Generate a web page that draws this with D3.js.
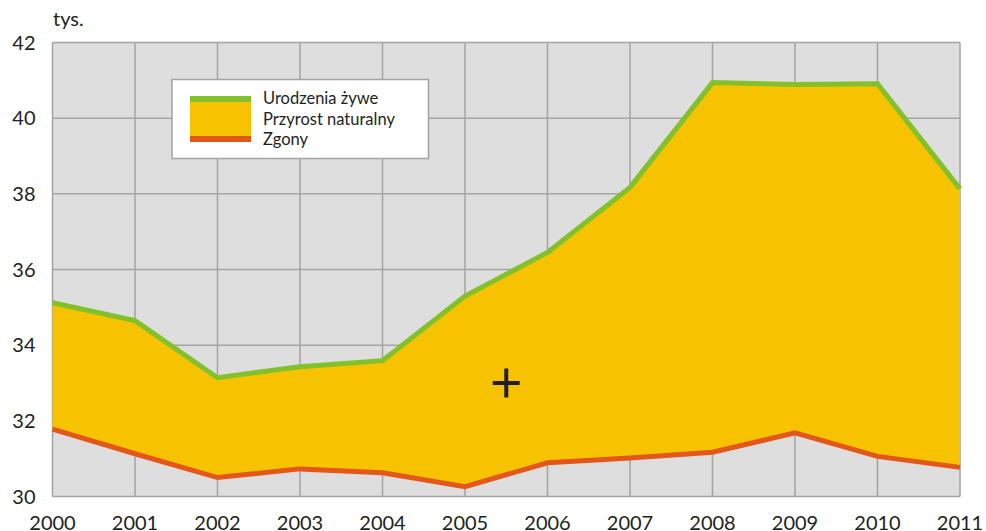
<!DOCTYPE html>
<html>
<head>
<meta charset="utf-8">
<script src="https://cdn.jsdelivr.net/npm/d3@7"></script>
<style>
  body { margin: 0; background: #fff; }
  text { font-family: Lato, "Open Sans", sans-serif; fill: #231f20; }
</style>
</head>
<body>
<script>
// data (thousands)
var years = [2000, 2001, 2002, 2003, 2004, 2005, 2006, 2007, 2008, 2009, 2010, 2011];
var births = [35.12, 34.65, 33.14, 33.43, 33.59, 35.30, 36.45, 38.17, 40.94, 40.89, 40.91, 38.13];
var deaths = [31.78, 31.13, 30.50, 30.73, 30.63, 30.26, 30.89, 31.02, 31.17, 31.68, 31.06, 30.77];
var yTicks = [30, 32, 34, 36, 38, 40, 42];
var legendLabels = ["Urodzenia żywe", "Przyrost naturalny", "Zgony"];

var W = 986, H = 531;
var margin = { top: 42.5, right: 26, bottom: 34.5, left: 52.5 };
var width = W - margin.left - margin.right;
var height = H - margin.top - margin.bottom;

var green = "#82c12a", yellow = "#f7c300", orange = "#e4571b";

var svg = d3.select("body").append("svg")
    .attr("width", W)
    .attr("height", H);

var g = svg.append("g")
    .attr("transform", "translate(" + margin.left + "," + margin.top + ")");

var x = d3.scaleLinear().domain([2000, 2011]).range([0, width]);
var y = d3.scaleLinear().domain([30, 42]).range([height, 0]);

// background
g.append("rect")
    .attr("width", width)
    .attr("height", height)
    .attr("fill", "#dedede");

// grid
g.selectAll("line.vgrid")
    .data(years)
    .enter().append("line")
    .attr("class", "vgrid")
    .attr("x1", function (d) { return x(d); })
    .attr("x2", function (d) { return x(d); })
    .attr("y1", 0).attr("y2", height)
    .attr("stroke", "#a3a3a3").attr("stroke-width", 1.5);

g.selectAll("line.hgrid")
    .data(yTicks)
    .enter().append("line")
    .attr("class", "hgrid")
    .attr("x1", 0).attr("x2", width)
    .attr("y1", function (d) { return y(d); })
    .attr("y2", function (d) { return y(d); })
    .attr("stroke", "#a3a3a3").attr("stroke-width", 1.5);

// area between births and deaths
var rows = years.map(function (yr, i) { return { yr: yr, b: births[i], d: deaths[i] }; });

var area = d3.area()
    .x(function (d) { return x(d.yr); })
    .y0(function (d) { return y(d.d); })
    .y1(function (d) { return y(d.b); });

g.append("path")
    .datum(rows)
    .attr("d", area)
    .attr("fill", yellow);

var lineB = d3.line().x(function (d) { return x(d.yr); }).y(function (d) { return y(d.b); });
var lineD = d3.line().x(function (d) { return x(d.yr); }).y(function (d) { return y(d.d); });

g.append("path")
    .datum(rows)
    .attr("d", lineD)
    .attr("fill", "none")
    .attr("stroke", orange)
    .attr("stroke-width", 5);

g.append("path")
    .datum(rows)
    .attr("d", lineB)
    .attr("fill", "none")
    .attr("stroke", green)
    .attr("stroke-width", 5);

// stray plus mark in the middle
var px = x(2005.5), py = y(33);
g.append("path")
    .attr("d", "M" + (px - 13.5) + "," + py + "h27M" + px + "," + (py - 14.5) + "v29")
    .attr("stroke", "#231f20")
    .attr("stroke-width", 4);

// axes labels
g.selectAll("text.ytick")
    .data(yTicks)
    .enter().append("text")
    .attr("class", "ytick")
    .attr("x", -17)
    .attr("y", function (d) { return y(d); })
    .attr("dy", "0.36em")
    .attr("text-anchor", "end")
    .style("font-size", "20px")
    .text(function (d) { return d; });

g.selectAll("text.xtick")
    .data(years)
    .enter().append("text")
    .attr("class", "xtick")
    .attr("x", function (d) { return x(d); })
    .attr("y", height + 33)
    .attr("text-anchor", "middle")
    .style("font-size", "20px")
    .text(function (d) { return d; });

svg.append("text")
    .attr("x", 53)
    .attr("y", 26)
    .style("font-size", "20px")
    .text("tys.");

// legend
var leg = svg.append("g").attr("transform", "translate(172,79.5)");
leg.append("rect")
    .attr("width", 256.5)
    .attr("height", 79)
    .attr("fill", "#fff")
    .attr("stroke", "#a3a3a3")
    .attr("stroke-width", 1.5);
leg.append("rect").attr("x", 18).attr("y", 16.5).attr("width", 61).attr("height", 6).attr("fill", green);
leg.append("rect").attr("x", 18).attr("y", 22.5).attr("width", 61).attr("height", 34).attr("fill", yellow);
leg.append("rect").attr("x", 18).attr("y", 56.5).attr("width", 61).attr("height", 6).attr("fill", orange);
leg.selectAll("text")
    .data(legendLabels)
    .enter().append("text")
    .attr("x", 91)
    .attr("y", function (d, i) { return 24.5 + i * 20.5; })
    .style("font-size", "16.5px")
    .text(function (d) { return d; });
</script>
</body>
</html>
